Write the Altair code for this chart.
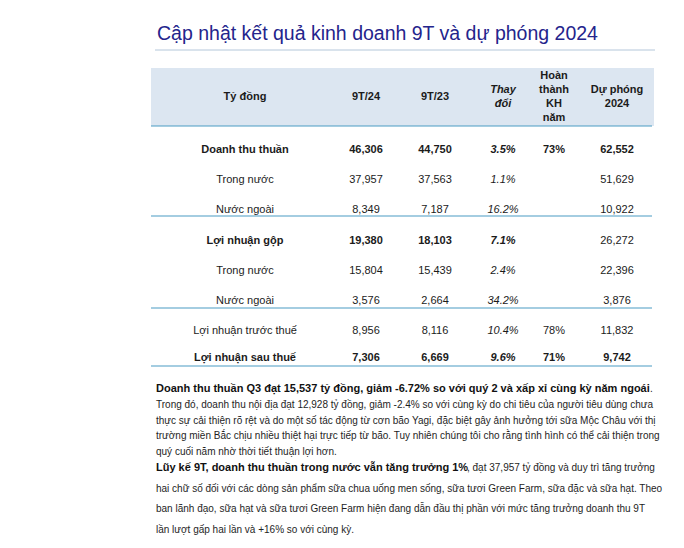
import altair as alt
import pandas as pd

# ---------------- data ----------------
TITLE = "Cập nhật kết quả kinh doanh 9T và dự phóng 2024"
HEADERS = [["Tỷ đồng"], ["9T/24"], ["9T/23"], ["Thay", "đổi"],
           ["Hoàn", "thành", "KH", "năm"], ["Dự phóng", "2024"]]
ROW_LABELS = ["Doanh thu thuần", "Trong nước", "Nước ngoài", "Lợi nhuận gộp",
              "Trong nước", "Nước ngoài", "Lợi nhuận trước thuế", "Lợi nhuận sau thuế"]
V24 = [46306, 37957, 8349, 19380, 15804, 3576, 8956, 7306]
V23 = [44750, 37563, 7187, 18103, 15439, 2664, 8116, 6669]
CHANGE = [3.5, 1.1, 16.2, 7.1, 2.4, 34.2, 10.4, 9.6]
COMPLETION = [73, None, None, None, None, None, 78, 71]
FORECAST = [62552, 51629, 10922, 26272, 22396, 3876, 11832, 9742]
ROW_BOLD = [True, False, False, True, False, False, False, True]
FORECAST_BOLD = [True, False, False, False, False, False, False, True]

PARA1_BOLD = "Doanh thu thuần Q3 đạt 15,537 tỷ đồng, giảm -6.72% so với quý 2 và xấp xỉ cùng kỳ năm ngoái"
PARA1_REST = "."
PARA1_LINES = [
    "Trong đó, doanh thu nội địa đạt 12,928 tỷ đồng, giảm -2.4% so với cùng kỳ do chi tiêu của người tiêu dùng chưa",
    "thực sự cải thiện rõ rệt và do một số tác động từ cơn bão Yagi, đặc biệt gây ảnh hưởng tới sữa Mộc Châu với thị",
    "trường miền Bắc chịu nhiều thiệt hại trực tiếp từ bão. Tuy nhiên chúng tôi cho rằng tình hình có thể cải thiện trong",
    "quý cuối năm nhờ thời tiết thuận lợi hơn.",
]
PARA2_BOLD = "Lũy kế 9T, doanh thu thuần trong nước vẫn tăng trưởng 1%"
PARA2_REST = ", đạt 37,957 tỷ đồng và duy trì tăng trưởng"
PARA2_LINES = [
    "hai chữ số đối với các dòng sản phẩm sữa chua uống men sống, sữa tươi Green Farm, sữa đặc và sữa hạt. Theo",
    "ban lãnh đạo, sữa hạt và sữa tươi Green Farm hiện đang dẫn đầu thị phần với mức tăng trưởng doanh thu 9T",
    "lần lượt gấp hai lần và +16% so với cùng kỳ.",
]

# ---------------- layout (pixel positions of the page) ----------------
W, H = 668, 530
COL_X = [245, 366, 435, 503, 554, 617]
ROW_Y = [150, 180, 210, 241, 271, 301, 331, 358]
HEAD_Y, HEAD_STEP = 97, 14
BAND = dict(x=151, x2=654, y=68, y2=126)
RULES_Y = [126, 216, 308, 366]
PARA_X = 156
P1_Y, P1_STEP = 389, 15.8
P2_Y, P2_STEP = 468, 20.5
FONT = "Liberation Sans"
TXT = "#1b1b1b"

xs = alt.Scale(domain=[8, 8 + W], nice=False, zero=False)
ys = alt.Scale(domain=[8 + H, 8], nice=False, zero=False)


def X(f="x"):
    return alt.X(f"{f}:Q", scale=xs, axis=None)


def Y(f="y"):
    return alt.Y(f"{f}:Q", scale=ys, axis=None)


layers = []

# header band
band = pd.DataFrame([BAND])
layers.append(alt.Chart(band).mark_rect(color="#dce6f1").encode(
    x=X("x"), x2="x2", y=Y("y"), y2="y2"))

# title rule
layers.append(alt.Chart(pd.DataFrame([dict(x=155, x2=655, y=50)])).mark_rule(
    color="#b4c7da", strokeWidth=1).encode(x=X("x"), x2="x2", y=Y("y")))

# teal rules
rules = pd.DataFrame([dict(x=151, x2=652, y=yy) for yy in RULES_Y])
layers.append(alt.Chart(rules).mark_rule(color="#4a9cc3", strokeWidth=1.2).encode(
    x=X("x"), x2="x2", y=Y("y")))

# title
layers.append(alt.Chart(pd.DataFrame([dict(x=157, y=34, t=TITLE)])).mark_text(
    align="left", baseline="middle", font=FONT, fontSize=19.5, color="#24248c").encode(
    x=X(), y=Y(), text="t:N"))

# headers
hrows = []
for c, lines in enumerate(HEADERS):
    n = len(lines)
    for i, ln in enumerate(lines):
        hrows.append(dict(x=COL_X[c], y=HEAD_Y + (i - (n - 1) / 2) * HEAD_STEP, t=ln,
                          it=(c == 3)))
hdf = pd.DataFrame(hrows)
for it in (False, True):
    sub = hdf[hdf.it == it]
    layers.append(alt.Chart(sub).mark_text(
        align="center", baseline="middle", font=FONT, fontSize=11, fontWeight="bold",
        fontStyle="italic" if it else "normal", color=TXT).encode(
        x=X(), y=Y(), text="t:N"))

# cells
cells = []
for r in range(len(ROW_LABELS)):
    b = ROW_BOLD[r]
    cells.append(dict(x=COL_X[0], y=ROW_Y[r], t=ROW_LABELS[r], b=b, it=False))
    cells.append(dict(x=COL_X[1], y=ROW_Y[r], t=f"{V24[r]:,}", b=b, it=False))
    cells.append(dict(x=COL_X[2], y=ROW_Y[r], t=f"{V23[r]:,}", b=b, it=False))
    cells.append(dict(x=COL_X[3], y=ROW_Y[r], t=f"{CHANGE[r]:.1f}%", b=b, it=True))
    if COMPLETION[r] is not None:
        cells.append(dict(x=COL_X[4], y=ROW_Y[r], t=f"{COMPLETION[r]}%", b=b, it=False))
    cells.append(dict(x=COL_X[5], y=ROW_Y[r], t=f"{FORECAST[r]:,}", b=FORECAST_BOLD[r], it=False))
cdf = pd.DataFrame(cells)
for b in (False, True):
    for it in (False, True):
        sub = cdf[(cdf.b == b) & (cdf.it == it)]
        if len(sub) == 0:
            continue
        layers.append(alt.Chart(sub).mark_text(
            align="center", baseline="middle", font=FONT, fontSize=11,
            fontWeight="bold" if b else "normal",
            fontStyle="italic" if it else "normal", color=TXT).encode(
            x=X(), y=Y(), text="t:N"))

# paragraphs
prow_reg = []
prow_bold = []
prow_bold.append(dict(x=PARA_X, y=P1_Y, t=PARA1_BOLD))
prow_reg.append(dict(x=650, y=P1_Y, t=PARA1_REST))
for i, ln in enumerate(PARA1_LINES):
    prow_reg.append(dict(x=PARA_X, y=P1_Y + (i + 1) * P1_STEP, t=ln))
prow_bold.append(dict(x=PARA_X, y=P2_Y, t=PARA2_BOLD))
prow_reg.append(dict(x=467, y=P2_Y, t=PARA2_REST))
for i, ln in enumerate(PARA2_LINES):
    prow_reg.append(dict(x=PARA_X, y=P2_Y + (i + 1) * P2_STEP, t=ln))

layers.append(alt.Chart(pd.DataFrame(prow_bold)).mark_text(
    align="left", baseline="middle", font=FONT, fontSize=11, fontWeight="bold",
    color="#111111").encode(x=X(), y=Y(), text="t:N"))
layers.append(alt.Chart(pd.DataFrame(prow_reg)).mark_text(
    align="left", baseline="middle", font=FONT, fontSize=10,
    color="#1e1e1e").encode(x=X(), y=Y(), text="t:N"))

chart = alt.layer(*layers).properties(
    width=W, height=H, autosize=alt.AutoSizeParams(type="none"), padding=0
).configure_view(stroke=None)

chart.save("out.html", embed_options={"renderer": "svg", "actions": False})
